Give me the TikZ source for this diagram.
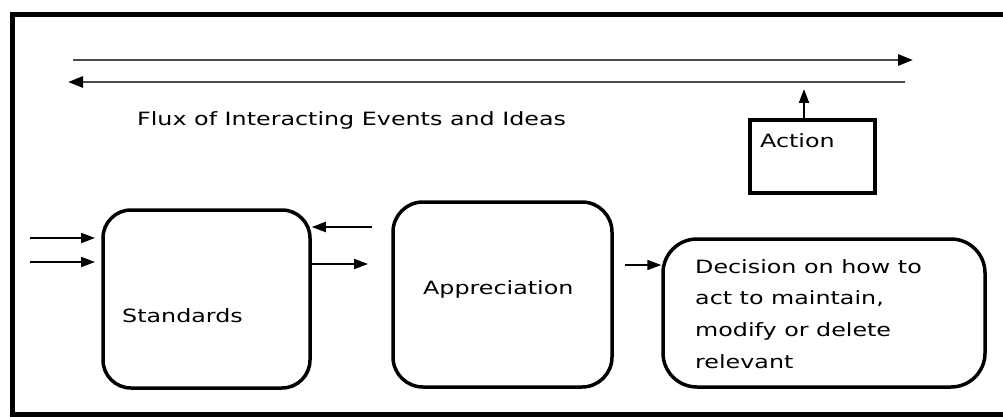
\documentclass[tikz,border=0pt]{standalone}
\usepackage{fontspec}
\setmainfont{DejaVu Sans}[FakeStretch=1.3]
\usetikzlibrary{arrows.meta}
\begin{document}
\begin{tikzpicture}[x=1pt,y=-1pt,
  box/.style={draw=black,line width=3.5pt,minimum width=#1,inner sep=0pt},
  rbox/.style={box=#1,rounded corners=28pt},
  label text/.style={inner sep=0pt,anchor=base west,font=\fontsize{18.3}{31.7}\selectfont,text=black},
  arr/.style={line width=2pt,-{Triangle[length=14pt,width=10pt]}},
  flux/.style={draw=black!70,line width=2.8pt,-{Triangle[length=15pt,width=11pt,fill=black,color=black]}}]
\useasboundingbox (0,0) rectangle (1003,417);
\fill[white] (0,0) rectangle (1003,417);
% outer frame (its right side runs past the page edge)
\draw[line width=5pt] (1012,15) -- (12.5,15) -- (12.5,414.5) -- (1012,414.5);

% the two flux lines
\coordinate (fa1) at (73,60);
\coordinate (fa2) at (913,60);
\coordinate (fb1) at (905,82);
\coordinate (fb2) at (68,82);
\draw[flux] (fa1) -- (fa2);
\draw[flux] (fb1) -- (fb2);
\node[label text] (flux) at (137,125) {Flux of Interacting Events and Ideas};

% boxes
\node[box=125pt,minimum height=73pt] (act) at (812.5,156.5) {};
\node[label text] (actlbl) at (760,147) {Action};
\node[rbox=207pt,minimum height=178pt] (std) at (206.5,299) {};
\node[label text] (stdlbl) at (122,322) {Standards};
\node[rbox=219pt,minimum height=185pt,rounded corners=30pt] (app) at (502.5,294.5) {};
\node[label text] (applbl) at (423,294) {Appreciation};
\node[rbox=322pt,minimum height=148pt,rounded corners=34pt] (dec) at (824,313) {};
\node[label text,anchor=west,align=left] (declbl) at (695,314)
  {Decision on how to\\act to maintain,\\modify or delete\\relevant};

% connectors
\coordinate (actup) at (804,89);
\draw[arr] (act.north -| actup) -- (actup);
\coordinate (in1) at (30,238);
\coordinate (in2) at (30,262);
\coordinate (in1e) at (95,238);
\coordinate (in2e) at (95,262);
\draw[arr] (in1) -- (in1e);
\draw[arr] (in2) -- (in2e);
\coordinate (back) at (372,227);
\draw[arr] (back) -- (std.east |- back);
\coordinate (fwd) at (368,264);
\draw[arr] (std.east |- fwd) -- (fwd);
\coordinate (todec) at (625,265);
\draw[arr] (todec) -- (dec.west |- todec);
\end{tikzpicture}
\end{document}
